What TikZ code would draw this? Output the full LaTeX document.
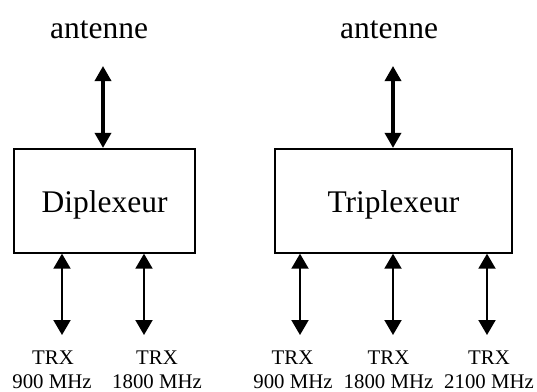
\documentclass[tikz,border=0pt]{standalone}
\usepackage{fontspec}
\setmainfont{Liberation Serif}
\usetikzlibrary{arrows.meta}
\begin{document}
\begin{tikzpicture}[x=1pt, y=-1pt,
  bigfont/.style={font=\fontsize{31.5}{36}\selectfont},
  smallfont/.style={font=\fontsize{20.8}{24}\selectfont},
  filterbox/.style={draw, line width=1.8pt, inner sep=0pt, bigfont,
    minimum height=104pt, text height=30pt, text depth=6pt},
  title/.style={bigfont, anchor=base, inner sep=0pt},
  portlabel/.style={smallfont, anchor=base, inner sep=0pt},
  antlink/.style={{Triangle[width=16pt,length=15pt]}-{Triangle[width=16pt,length=15pt]}, line width=3.4pt},
  portlink/.style={{Triangle[width=17pt,length=15pt]}-{Triangle[width=17pt,length=15pt]}, line width=2pt}]
\useasboundingbox (0,0) rectangle (537,391);

% filter blocks
\node[filterbox, minimum width=181pt] (dip) at (104.5,200.8) {Diplexeur};
\node[filterbox, minimum width=237pt] (tri) at (393.5,200.8) {Triplexeur};

% antenna side
\node[title] (antL) at (99,38) {antenne};
\node[title] (antR) at (389,38) {antenne};
\coordinate (aL) at (103,66);
\coordinate (aR) at (393,66);
\draw[antlink] (aL) -- (aL |- dip.north);
\draw[antlink] (aR) -- (aR |- tri.north);

% transceiver ports, diplexer
\coordinate (d1) at (62,335);
\coordinate (d2) at (144,335);
\draw[portlink] (d1 |- dip.south) -- (d1);
\draw[portlink] (d2 |- dip.south) -- (d2);
\node[portlabel] (d1a) at (53,364.5) {TRX};
\node[portlabel] (d1b) at (52,388) {900 MHz};
\node[portlabel] (d2a) at (157,364.5) {TRX};
\node[portlabel] (d2b) at (157,388) {1800 MHz};

% transceiver ports, triplexer
\coordinate (t1) at (300,335);
\coordinate (t2) at (393,335);
\coordinate (t3) at (487,335);
\draw[portlink] (t1 |- tri.south) -- (t1);
\draw[portlink] (t2 |- tri.south) -- (t2);
\draw[portlink] (t3 |- tri.south) -- (t3);
\node[portlabel] (t1a) at (292.5,364.5) {TRX};
\node[portlabel] (t1b) at (293,388) {900 MHz};
\node[portlabel] (t2a) at (388.5,364.5) {TRX};
\node[portlabel] (t2b) at (388.5,388) {1800 MHz};
\node[portlabel] (t3a) at (489,364.5) {TRX};
\node[portlabel] (t3b) at (489,388) {2100 MHz};
\end{tikzpicture}
\end{document}
